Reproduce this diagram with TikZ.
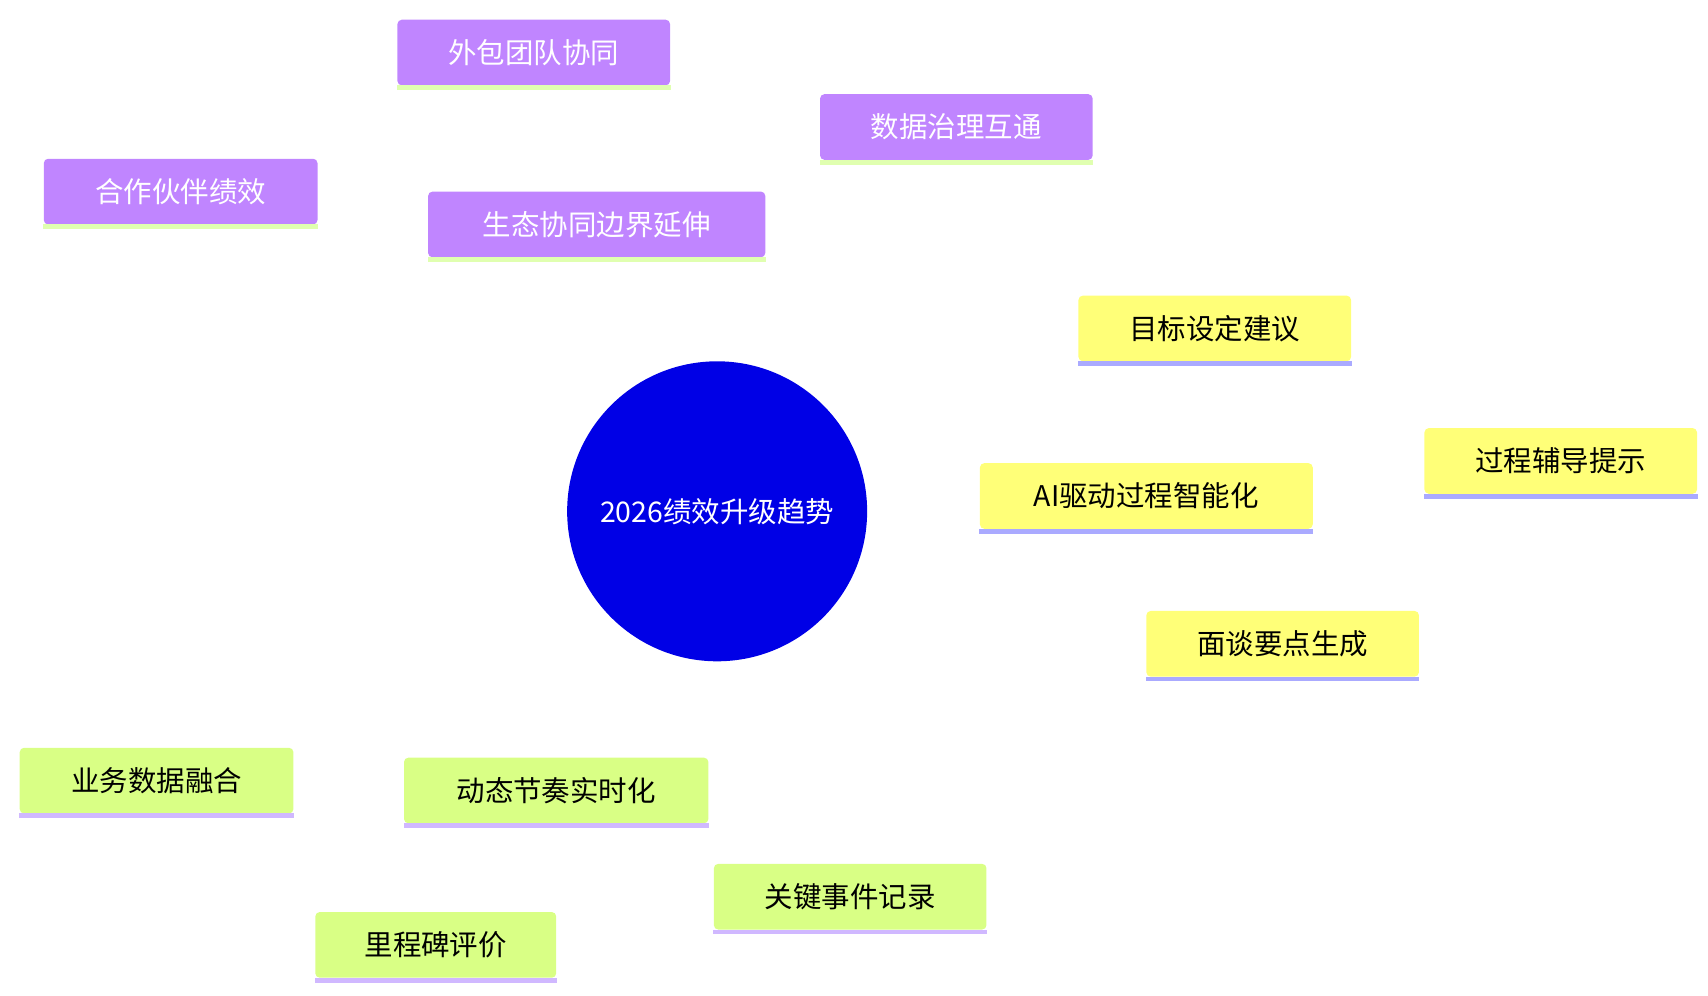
\documentclass[tikz,border=0pt]{standalone}
\usepackage{fontspec}
\setmainfont{Noto Sans CJK SC}
\begin{document}
\begin{tikzpicture}[x=0.5pt,y=-0.5pt]
\definecolor{pur}{HTML}{C085FF}
\definecolor{yel}{HTML}{FFFF78}
\definecolor{gre}{HTML}{D9FF85}
\definecolor{lav}{HTML}{AAAAFF}
\definecolor{lil}{HTML}{D0B8FF}
\definecolor{lgr}{HTML}{E0FFB0}
\tikzset{
 box/.style={rounded corners=2pt,minimum height=30pt,inner sep=0pt,font=\fontsize{13}{13}\selectfont},
 pbox/.style={box,fill=pur,text=white},
 ybox/.style={box,fill=yel,text=black},
 gbox/.style={box,fill=gre,text=black},
}
\useasboundingbox (0,0) rectangle (1560,909);
% nodes
\node[circle,fill={rgb,255:red,0;green,0;blue,230},minimum size=137pt,inner sep=0pt,text=white,font=\fontsize{13}{13}\selectfont] (c) at (655,467) {2026绩效升级趋势};
\node[pbox,minimum width=154pt] (p) at (545,205) {生态协同边界延伸};
\node[pbox,minimum width=124.5pt] (p1) at (487.5,48) {外包团队协同};
\node[pbox,minimum width=124.5pt] (p2) at (873.5,116) {数据治理互通};
\node[pbox,minimum width=125pt] (p3) at (165,175) {合作伙伴绩效};
\node[ybox,minimum width=152pt] (y) at (1047,453) {AI驱动过程智能化};
\node[ybox,minimum width=124.5pt] (y1) at (1109.5,300) {目标设定建议};
\node[ybox,minimum width=124.5pt] (y2) at (1425.5,421) {过程辅导提示};
\node[ybox,minimum width=124.5pt] (y3) at (1171.5,588) {面谈要点生成};
\node[gbox,minimum width=139pt] (g) at (508,722) {动态节奏实时化};
\node[gbox,minimum width=125pt] (g1) at (143,713) {业务数据融合};
\node[gbox,minimum width=110pt] (g2) at (398,863) {里程碑评价};
\node[gbox,minimum width=124.5pt] (g3) at (776.5,819) {关键事件记录};
% edges behind
\begin{scope}[on background layer/.try]
\end{scope}
\begin{pgfinterruptboundingbox}\end{pgfinterruptboundingbox}
% strips
\foreach \n/\col in {p/lgr,p1/lgr,p2/lgr,p3/lgr,y/lav,y1/lav,y2/lav,y3/lav,g/lil,g1/lil,g2/lil,g3/lil}{
  \fill[\col] ([yshift=0.2pt]\n.south west) rectangle ([yshift=-2pt]\n.south east);
}
\end{tikzpicture}
\end{document}
